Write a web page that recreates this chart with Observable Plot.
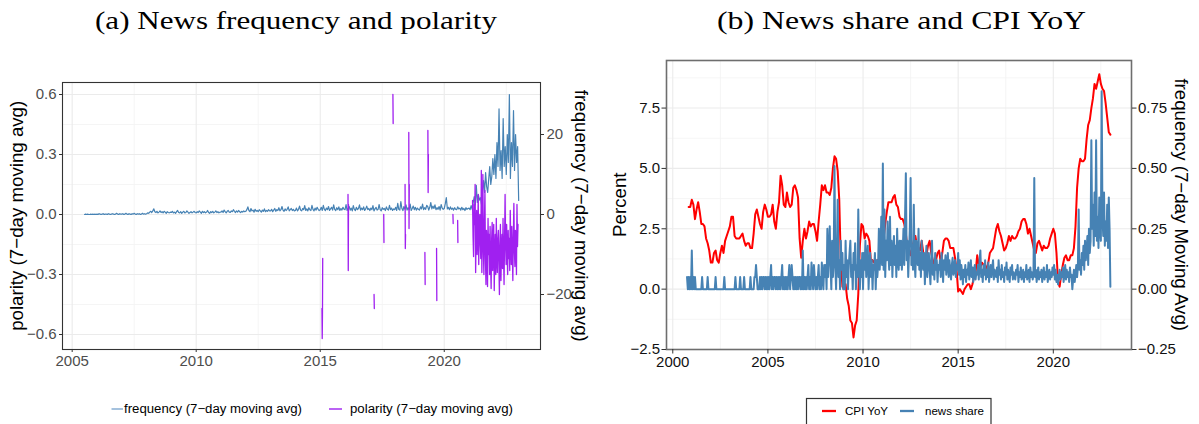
<!DOCTYPE html>
<html><head><meta charset="utf-8">
<script src="https://cdn.jsdelivr.net/npm/d3@7"></script>
<script src="https://cdn.jsdelivr.net/npm/@observablehq/plot@0.6"></script>
<style>
body{margin:0;background:#fff;}
#wrap{position:relative;width:1199px;height:424px;overflow:hidden;background:#fff;}
#left,#right{position:absolute;top:0;}
#left{left:0px} #right{left:600px}
#overlay{position:absolute;left:0;top:0;pointer-events:none}
</style></head><body>
<div id="wrap"><div id="left"></div><div id="right"></div><svg id="overlay" width="1199" height="424"></svg></div>
<script>
// ---------- Panel (a): news frequency (7-day moving avg), sampled every 1/24 year from 2005.5 ----------
const freqStart = 2005.5;
const freqPerYear = 24;
const freqValues = [
  0.0,0.1,0.0,0.1,0.0,0.0,0.1,0.0,0.1,0.0,0.1,0.0,
  0.1,0.0,0.2,0.1,0.0,0.1,0.2,0.0,0.1,0.1,0.0,0.2,0.1,0.0,0.1,0.2,0.1,0.0,0.1,0.3,0.1,0.0,0.2,0.1,
  0.1,0.2,0.0,0.1,0.3,0.1,0.0,0.2,0.1,0.0,0.2,0.1,0.3,0.1,0.0,0.2,0.1,0.2,0.0,0.1,0.3,0.1,0.2,0.1,
  0.2,0.4,0.3,0.6,0.8,0.5,0.9,1.4,0.7,0.5,0.8,0.4,0.6,0.9,0.5,0.7,0.4,0.8,0.6,0.3,0.7,0.5,0.4,0.6,
  0.5,0.8,0.4,0.6,0.3,0.7,1.0,0.5,0.4,0.7,0.3,0.6,0.8,0.4,0.5,0.9,0.6,0.3,0.5,0.7,0.4,0.6,0.8,0.5,
  0.4,0.7,0.5,0.9,0.6,0.3,0.8,0.5,0.7,0.4,0.6,1.0,0.5,0.3,0.7,0.5,0.8,0.4,0.6,0.9,0.5,0.7,0.4,0.6,
  0.6,0.9,0.5,1.1,0.7,0.4,0.8,1.0,0.6,0.5,0.9,0.7,1.2,0.8,0.5,0.9,0.6,1.0,0.7,0.5,0.8,0.6,0.9,0.7,
  0.8,1.2,1.9,1.0,0.7,1.5,0.9,1.1,0.6,1.3,0.8,1.0,0.7,1.2,0.9,0.6,1.1,0.8,1.4,0.7,1.0,0.8,1.2,0.9,
  0.9,1.3,0.7,1.1,1.5,0.8,1.2,1.0,1.7,0.9,1.2,2.0,1.1,0.8,1.4,1.0,1.3,1.9,0.9,1.2,1.5,1.0,1.3,0.9,
  1.0,1.6,0.9,1.3,2.1,1.1,0.9,1.5,1.2,2.2,1.0,1.4,0.9,1.7,1.2,1.0,2.3,1.3,0.9,1.6,1.1,1.8,1.3,1.0,
  1.2,1.8,1.0,2.3,1.3,1.0,1.6,1.2,2.0,1.0,1.4,1.8,1.1,2.4,1.3,1.0,1.7,1.2,1.9,1.0,1.5,1.1,1.8,1.3,
  1.2,2.5,1.0,1.5,2.0,1.1,1.6,0.9,2.2,1.3,1.0,1.8,1.2,1.5,2.4,1.1,1.6,1.2,1.9,1.0,1.4,2.1,1.2,1.5,
  1.0,1.6,1.2,2.2,0.9,1.4,1.8,1.1,1.3,2.5,1.2,0.9,1.7,1.3,1.5,1.0,1.9,1.3,1.1,2.3,1.2,1.6,1.0,1.4,
  1.2,1.8,1.0,2.8,1.3,1.1,3.2,1.5,1.0,2.0,1.3,2.4,1.1,1.7,1.2,2.6,1.0,1.5,2.1,1.2,1.8,1.1,1.6,1.3,
  1.1,1.9,1.4,2.6,1.2,1.7,1.3,2.3,2.0,1.1,1.8,3.0,1.4,2.1,1.5,2.4,1.2,1.7,1.3,2.0,1.1,2.5,1.6,1.3,
  1.5,2.7,4.2,1.4,1.8,1.2,1.9,1.3,1.6,1.1,1.7,1.3,1.2,1.9,1.4,1.6,1.1,1.8,1.2,1.5,1.0,1.7,1.3,1.5,
  1.6,1.2,2.2,1.3,3.0,4.5,2.4,7.3,3.0,5.0,3.6,4.2,2.5,6.0,8.5,5.5,10.5,7.0,5.5,8.8,12.0,7.5,9.5,14.0,
  10.0,15.0,9.0,18.0,12.0,26.4,11.0,16.0,9.0,24.0,12.0,17.0,10.0,20.0,13.0,30.0,9.0,18.0,12.0,26.0,11.0,20.0,13.0,17.0,
  3.5
];
// Isolated polarity bursts (date, value); gaps between them
const polaritySegments = [
  [[2015.07,-0.47],[2015.08,-0.62],[2015.09,-0.50],[2015.10,-0.22]],
  [[2016.12,0.10],[2016.13,-0.28],[2016.14,0.05]],
  [[2017.17,-0.40],[2017.18,-0.47]],
  [[2017.56,0.00],[2017.57,-0.14]],
  [[2017.93,0.60],[2017.94,0.455]],
  [[2018.42,0.15],[2018.43,-0.17],[2018.44,-0.10]],
  [[2018.57,0.41],[2018.58,-0.07],[2018.59,0.15]],
  [[2019.22,-0.19],[2019.23,-0.35]],
  [[2019.34,0.42],[2019.35,0.11],[2019.36,0.30]],
  [[2019.69,-0.17],[2019.70,-0.43]],
  [[2020.35,0.00],[2020.36,-0.045]],
  [[2020.54,-0.03],[2020.55,-0.14]]
];
// Dense polarity period, sampled every 1/48 year from 2021.14
const polarityDenseStart = 2021.14;
const polarityDensePerYear = 48;
const polarityDense = [
  0.07,-0.11,-0.21,0.05,-0.05,0.15,-0.29,-0.08,0.02,-0.20,-0.12,0.10,-0.25,-0.05,0.00,-0.15,-0.22,
  0.22,-0.29,-0.10,0.20,-0.18,-0.30,-0.05,0.12,-0.22,-0.35,-0.08,-0.15,-0.36,-0.02,-0.20,-0.10,-0.30,-0.06,-0.25,-0.37,-0.12,-0.04,-0.28,-0.15,
  -0.05,-0.38,-0.20,-0.10,-0.30,-0.02,-0.22,-0.29,-0.12,-0.08,-0.25,-0.40,-0.15,-0.05,-0.33,-0.18,-0.10,-0.27,-0.02,-0.20,-0.35,-0.12,0.10,-0.15,
  -0.25,-0.05,-0.18,-0.30,-0.08,-0.22,-0.12,-0.28,0.02,-0.15,-0.25,-0.06,-0.20,-0.33,-0.10,0.055,-0.18,-0.26,-0.08,-0.14,-0.30,0.05,-0.16,-0.05
];
const freqScaleA = 50;  // sec axis: frequency = polarity * 50
const xTicksA = [2005, 2010, 2015, 2020];
const xMinorA = [2007.5, 2012.5, 2017.5, 2022.5];
const yTicksA = [-0.6, -0.3, 0, 0.3, 0.6];
const yMinorA = [-0.45, -0.15, 0.15, 0.45];
const freqTicksA = [-20, 0, 20];

// ---------- Panel (b): CPI YoY monthly from Nov 2000 ----------
const cpiStart = 2000 + 10/12;
const cpiValues = [
  3.4,3.4,
  3.7,3.5,2.9,3.3,3.6,3.2,2.7,2.7,2.6,2.1,1.9,1.6,
  1.1,1.1,1.5,1.6,1.2,1.1,1.5,1.8,1.5,2.0,2.2,2.4,
  2.6,3.0,3.0,2.2,2.1,2.1,2.1,2.2,2.3,2.0,1.8,1.9,
  1.9,1.7,1.7,2.3,3.1,3.3,3.0,2.7,2.5,3.2,3.5,3.3,
  3.0,3.0,3.1,3.5,2.8,2.5,3.2,3.6,4.7,4.3,3.5,3.4,
  4.0,3.6,3.4,3.5,4.2,4.3,4.1,3.8,2.1,1.3,2.0,2.5,
  2.1,2.4,2.8,2.6,2.7,2.7,2.4,2.0,2.8,3.5,4.3,4.1,
  4.3,4.0,4.0,3.9,4.2,5.0,5.5,5.4,4.9,3.7,1.1,0.1,
  0.0,0.2,-0.4,-0.7,-1.3,-1.4,-2.0,-1.5,-1.3,-0.2,1.8,2.7,
  2.6,2.1,2.3,2.2,2.0,1.1,1.2,1.1,1.1,1.2,1.1,1.5,
  1.6,2.1,2.7,3.2,3.6,3.6,3.6,3.8,3.9,3.5,3.4,3.0,
  2.9,2.9,2.7,2.3,1.7,1.7,1.4,1.7,2.0,2.2,1.8,1.7,
  1.6,2.0,1.5,1.1,1.4,1.8,2.0,1.5,1.2,1.0,1.2,1.5,
  1.6,1.1,1.5,2.0,2.1,2.1,2.0,1.7,1.7,1.7,1.3,0.8,
  -0.1,0.0,-0.1,-0.2,0.0,0.1,0.2,0.2,0.0,0.2,0.5,0.7,
  1.4,1.0,0.9,1.1,1.0,1.0,0.8,1.1,1.5,1.6,1.7,2.1,
  2.5,2.7,2.4,2.2,1.9,1.6,1.7,1.9,2.2,2.0,2.2,2.1,
  2.1,2.2,2.4,2.5,2.8,2.9,2.9,2.7,2.3,2.5,2.2,1.9,
  1.6,1.5,1.9,2.0,1.8,1.6,1.8,1.7,1.7,1.8,2.1,2.3,
  2.5,2.3,1.5,0.3,0.1,0.6,1.0,1.3,1.4,1.2,1.2,1.4,
  1.4,1.7,2.6,4.2,5.0,5.4,5.3,5.3,5.4,6.2,6.8,7.0,
  7.5,7.9,8.5,8.3,8.6,8.9,8.5,8.3,8.2,7.7,7.1,6.5,
  6.4
];
// News share (7-day moving avg), sampled every 1/24 year from 2000.75
const shareStart = 2000.75;
const sharePerYear = 24;
const shareValues = [
  0.05,0,0.05,0,0.05,0,
  0.16,0,0.05,0,0.05,0,0,0,0,0,0,0,0,0.05,0,0,0,0,0,0,0.05,0,0,0,
  0,0,0,0,0,0,0.05,0,0,0,0,0,0,0,0,0,0,0.05,0,0,0,0,0,0,
  0,0,0,0,0,0,0,0.05,0,0,0,0,0,0.05,0,0,0,0,0.05,0,0,0,0,0,
  0,0,0.05,0,0,0,0,0.05,0.05,0.10,0.05,0,0,0,0.05,0,0.05,0,0.05,0.05,0,0.05,0,0.05,
  0,0.05,0,0.05,0.10,0,0.05,0,0.05,0.05,0,0.05,0,0.05,0,0.05,0,0.05,0.10,0,0.05,0,0.05,0,
  0.05,0,0.05,0.10,0,0.05,0.10,0.05,0,0.05,0,0.05,0,0.05,0,0.05,0.05,0,0.05,0,0.16,0,0.05,0,
  0.05,0,0.05,0.10,0,0.05,0,0.11,0.05,0,0.10,0.05,0,0.05,0,0.05,0.10,0,0.05,0,0.11,0.05,0,0.10,
  0.05,0.10,0,0.25,0.05,0.15,0.26,0.10,0,0.20,0.05,0.12,0.51,0.10,0,0.15,0.37,0.05,0.12,0,0.20,0.08,0.15,0,
  0.10,0,0.20,0.05,0.12,0,0.10,0.15,0.20,0.05,0.10,0,0.15,0.08,0.19,0,0.10,0.05,0.33,0.10,0,0.12,0.05,0.15,
  0,0.15,0.08,0.20,0.05,0.12,0.18,0,0.10,0.15,0.05,0.12,0,0.10,0.08,0.15,0,0.12,0.05,0.10,0.25,0.08,0.15,0.30,
  0.10,0.52,0.08,0.33,0.05,0.20,0.12,0.28,0.15,0.08,0.30,0.10,0.20,0.05,0.15,0.22,0.10,0.18,0.05,0.25,0.12,0.08,0.20,0.10,
  0.20,0.08,0.15,0.25,0.10,0.30,0.48,0.12,0.20,0.05,0.15,0.25,0.46,0.10,0.18,0.08,0.35,0.12,0.05,0.20,0.15,0.10,0.25,0.08,
  0.15,0.05,0.20,0.10,0.08,0.15,0.02,0.12,0.18,0.05,0.10,0.15,0.08,0.02,0.12,0.20,0.06,0.10,0.04,0.15,0.08,0.12,0.03,0.10,
  0.08,0.12,0.05,0.15,0.10,0.03,0.12,0.08,0.14,0.06,0.10,0.15,0.05,0.12,0.08,0.04,0.10,0.13,0.06,0.09,0.12,0.05,0.10,0.08,
  0.15,0.06,0.12,0.04,0.10,0.07,0.02,0.08,0.05,0.10,0.03,0.08,0.06,0.11,0.04,0.07,0.12,0.05,0.09,0.03,0.08,0.10,0.04,0.07,
  0.06,0.10,0.04,0.12,0.16,0.05,0.08,0.03,0.10,0.06,0.12,0.04,0.08,0.05,0.11,0.03,0.07,0.10,0.05,0.09,0.12,0.04,0.08,0.06,
  0.05,0.09,0.03,0.12,0.06,0.08,0.04,0.10,0.05,0.07,0.03,0.09,0.06,0.11,0.04,0.08,0.05,0.03,0.09,0.06,0.10,0.04,0.07,0.05,
  0.04,0.08,0.06,0.10,0.03,0.07,0.05,0.09,0.04,0.06,0.08,0.03,0.07,0.05,0.10,0.04,0.06,0.08,0.03,0.09,0.05,0.07,0.04,0.06,
  0.46,0.05,0.08,0.03,0.06,0.09,0.04,0.07,0.05,0.08,0.03,0.06,0.09,0.04,0.07,0.05,0.10,0.03,0.06,0.08,0.04,0.07,0.05,0.09,
  0.06,0.10,0.04,0.08,0.03,0.06,0.02,0.05,0.08,0.04,0.07,0.05,0.09,0.03,0.06,0.10,0.04,0.08,0.05,0.07,0.03,0.09,0.05,0.06,
  0.0,0.04,0.08,0.03,0.06,0.10,0.05,0.09,0.33,0.08,0.12,0.06,0.15,0.10,0.18,0.08,0.20,0.12,0.16,0.22,0.10,0.25,0.15,0.20,
  0.617,0.25,0.35,0.18,0.40,0.22,0.617,0.20,0.30,0.17,0.38,0.25,0.20,0.82,0.30,0.22,0.40,0.18,0.28,0.20,0.35,0.17,0.38,0.25,
  0.01
];
const shareScaleB = 10; // sec axis: share = percent / 10
const xTicksB = [2000, 2005, 2010, 2015, 2020];
const xMinorB = [2002.5, 2007.5, 2012.5, 2017.5, 2022.5];
const yTicksB = [-2.5, 0, 2.5, 5, 7.5];
const yMinorB = [-1.25, 1.25, 3.75, 6.25, 8.75];

// ---------- build tables ----------
const fmtNum = (v, d) => (v < -1e-9 ? "\u2212" : "") + Math.abs(v).toFixed(d);
const freqData = freqValues.map((v, i) => ({x: freqStart + i / freqPerYear, y: v / freqScaleA}));
const polData = [];
polaritySegments.forEach((seg, k) => seg.forEach(([x, y]) => polData.push({x, y, z: k})));
polarityDense.forEach((v, i) => polData.push({x: polarityDenseStart + i / polarityDensePerYear, y: v, z: "dense"}));
const cpiData = cpiValues.map((v, i) => ({x: cpiStart + i / 12, y: v}));
const shareData = shareValues.map((v, i) => ({x: shareStart + i / sharePerYear, y: v * shareScaleB}));

const font = "'Liberation Sans', Arial, Helvetica, sans-serif";

const plotA = Plot.plot({
  width: 600, height: 380,
  marginLeft: 62, marginRight: 60, marginTop: 82, marginBottom: 31,
  x: {domain: [2004.61, 2023.88]},
  y: {domain: [-0.675, 0.66]},
  style: {fontFamily: font, fontSize: "15px", color: "#4d4d4d", background: "transparent", overflow: "visible"},
  marks: [
    Plot.ruleX(xMinorA, {stroke: "#f3f3f3", strokeWidth: 0.8}),
    Plot.ruleY(yMinorA, {stroke: "#f3f3f3", strokeWidth: 0.8}),
    Plot.ruleX(xTicksA, {stroke: "#ebebeb", strokeWidth: 1.1}),
    Plot.ruleY(yTicksA, {stroke: "#ebebeb", strokeWidth: 1.1}),
    Plot.line(freqData, {x: "x", y: "y", stroke: "#4682B4", strokeWidth: 1.2, curve: "linear"}),
    Plot.line(polData, {x: "x", y: "y", z: "z", stroke: "#A020F0", strokeWidth: 1.3}),
    Plot.frame({stroke: "#333333", strokeWidth: 1.1}),
    Plot.axisX({ticks: xTicksA, tickFormat: d => String(d), tickSize: 3, tickPadding: 3, label: null, stroke: "#333", fill: "#4d4d4d", fontSize: 15}),
    Plot.axisY({anchor: "left", ticks: yTicksA, tickFormat: d => fmtNum(d, 1), tickSize: 3, tickPadding: 3, label: null, stroke: "#333", fill: "#4d4d4d", fontSize: 15}),
    Plot.axisY({anchor: "right", ticks: freqTicksA.map(f => f / freqScaleA), tickFormat: d => fmtNum(Math.round(d * freqScaleA), 0), tickSize: 3, tickPadding: 3, label: null, stroke: "#333", fill: "#4d4d4d", fontSize: 15})
  ]
});
document.getElementById("left").appendChild(plotA);

const plotB = Plot.plot({
  width: 599, height: 380,
  marginLeft: 66, marginRight: 68, marginTop: 60, marginBottom: 31,
  x: {domain: [1999.67, 2024.11]},
  y: {domain: [-2.5, 9.47]},
  style: {fontFamily: font, fontSize: "15px", color: "#1a1a1a", background: "transparent", overflow: "visible"},
  marks: [
    Plot.ruleX(xMinorB, {stroke: "#f3f3f3", strokeWidth: 0.8}),
    Plot.ruleY(yMinorB, {stroke: "#f3f3f3", strokeWidth: 0.8}),
    Plot.ruleX(xTicksB, {stroke: "#ebebeb", strokeWidth: 1.1}),
    Plot.ruleY(yTicksB, {stroke: "#ebebeb", strokeWidth: 1.1}),
    Plot.line(cpiData, {x: "x", y: "y", stroke: "#FF0000", strokeWidth: 2}),
    Plot.line(shareData, {x: "x", y: "y", stroke: "#4682B4", strokeWidth: 2}),
    Plot.frame({stroke: "#6e6e6e", strokeWidth: 1.6}),
    Plot.axisX({ticks: xTicksB, tickFormat: d => String(d), tickSize: 4.5, tickPadding: 2, label: null, stroke: "#333", fill: "#111", fontSize: 15}),
    Plot.axisY({anchor: "left", ticks: yTicksB, tickFormat: d => fmtNum(d, 1), tickSize: 4.5, tickPadding: 2, label: null, stroke: "#333", fill: "#111", fontSize: 15}),
    Plot.axisY({anchor: "right", ticks: yTicksB, tickFormat: d => fmtNum(d / shareScaleB, 2), tickSize: 4.5, tickPadding: 2, label: null, stroke: "#333", fill: "#111", fontSize: 15})
  ]
});
document.getElementById("right").appendChild(plotB);

// ---------- titles, axis titles, legends ----------
const ov = d3.select("#overlay");
const serif = "'Liberation Serif', 'DejaVu Serif', serif";
ov.append("text").attr("x", 95).attr("y", 29).attr("font-family", serif).attr("font-size", 25)
  .attr("textLength", 402).attr("lengthAdjust", "spacingAndGlyphs").attr("fill", "#000")
  .text("(a) News frequency and polarity");
ov.append("text").attr("x", 717).attr("y", 29).attr("font-family", serif).attr("font-size", 25)
  .attr("textLength", 369).attr("lengthAdjust", "spacingAndGlyphs").attr("fill", "#000")
  .text("(b) News share and CPI YoY");

function vlabel(x, y, rot, txt) {
  ov.append("text").attr("transform", `translate(${x},${y}) rotate(${rot})`)
    .attr("text-anchor", "middle").attr("dy", "0.35em")
    .attr("font-family", font).attr("font-size", 18.7).attr("fill", "#000").text(txt);
}
vlabel(16.5, 215.8, -90, "polarity (7\u2212day moving avg)");
vlabel(581.5, 215.8, 90, "frequency (7\u2212day moving avg)");
vlabel(619, 204.7, -90, "Percent");
vlabel(1181.5, 204.7, 90, "frequency (7\u2212day Moving Avg)");

// legend (a)
ov.append("line").attr("x1", 111.5).attr("x2", 123).attr("y1", 409).attr("y2", 409).attr("stroke", "#8fb3d6").attr("stroke-width", 1.6);
ov.append("text").attr("x", 124).attr("y", 413.3).attr("font-family", font).attr("font-size", 12.5)
  .attr("textLength", 178).attr("lengthAdjust", "spacingAndGlyphs").text("frequency (7\u2212day moving avg)");
ov.append("line").attr("x1", 329).attr("x2", 342).attr("y1", 409).attr("y2", 409).attr("stroke", "#b452f3").attr("stroke-width", 1.8);
ov.append("text").attr("x", 350).attr("y", 413.3).attr("font-family", font).attr("font-size", 12.5)
  .attr("textLength", 163).attr("lengthAdjust", "spacingAndGlyphs").text("polarity (7\u2212day moving avg)");

// legend (b)
ov.append("rect").attr("x", 806.5).attr("y", 398.5).attr("width", 184.5).attr("height", 40)
  .attr("fill", "#fff").attr("stroke", "#333").attr("stroke-width", 1.2);
ov.append("line").attr("x1", 822).attr("x2", 836).attr("y1", 411).attr("y2", 411).attr("stroke", "#FF0000").attr("stroke-width", 2.3);
ov.append("text").attr("x", 845).attr("y", 415).attr("font-family", font).attr("font-size", 11.5)
  .attr("textLength", 43).attr("lengthAdjust", "spacingAndGlyphs").text("CPI YoY");
ov.append("line").attr("x1", 900).attr("x2", 914).attr("y1", 411).attr("y2", 411).attr("stroke", "#4682B4").attr("stroke-width", 2.3);
ov.append("text").attr("x", 925).attr("y", 415).attr("font-family", font).attr("font-size", 11.5)
  .attr("textLength", 59).attr("lengthAdjust", "spacingAndGlyphs").text("news share");
</script>
</body></html>
